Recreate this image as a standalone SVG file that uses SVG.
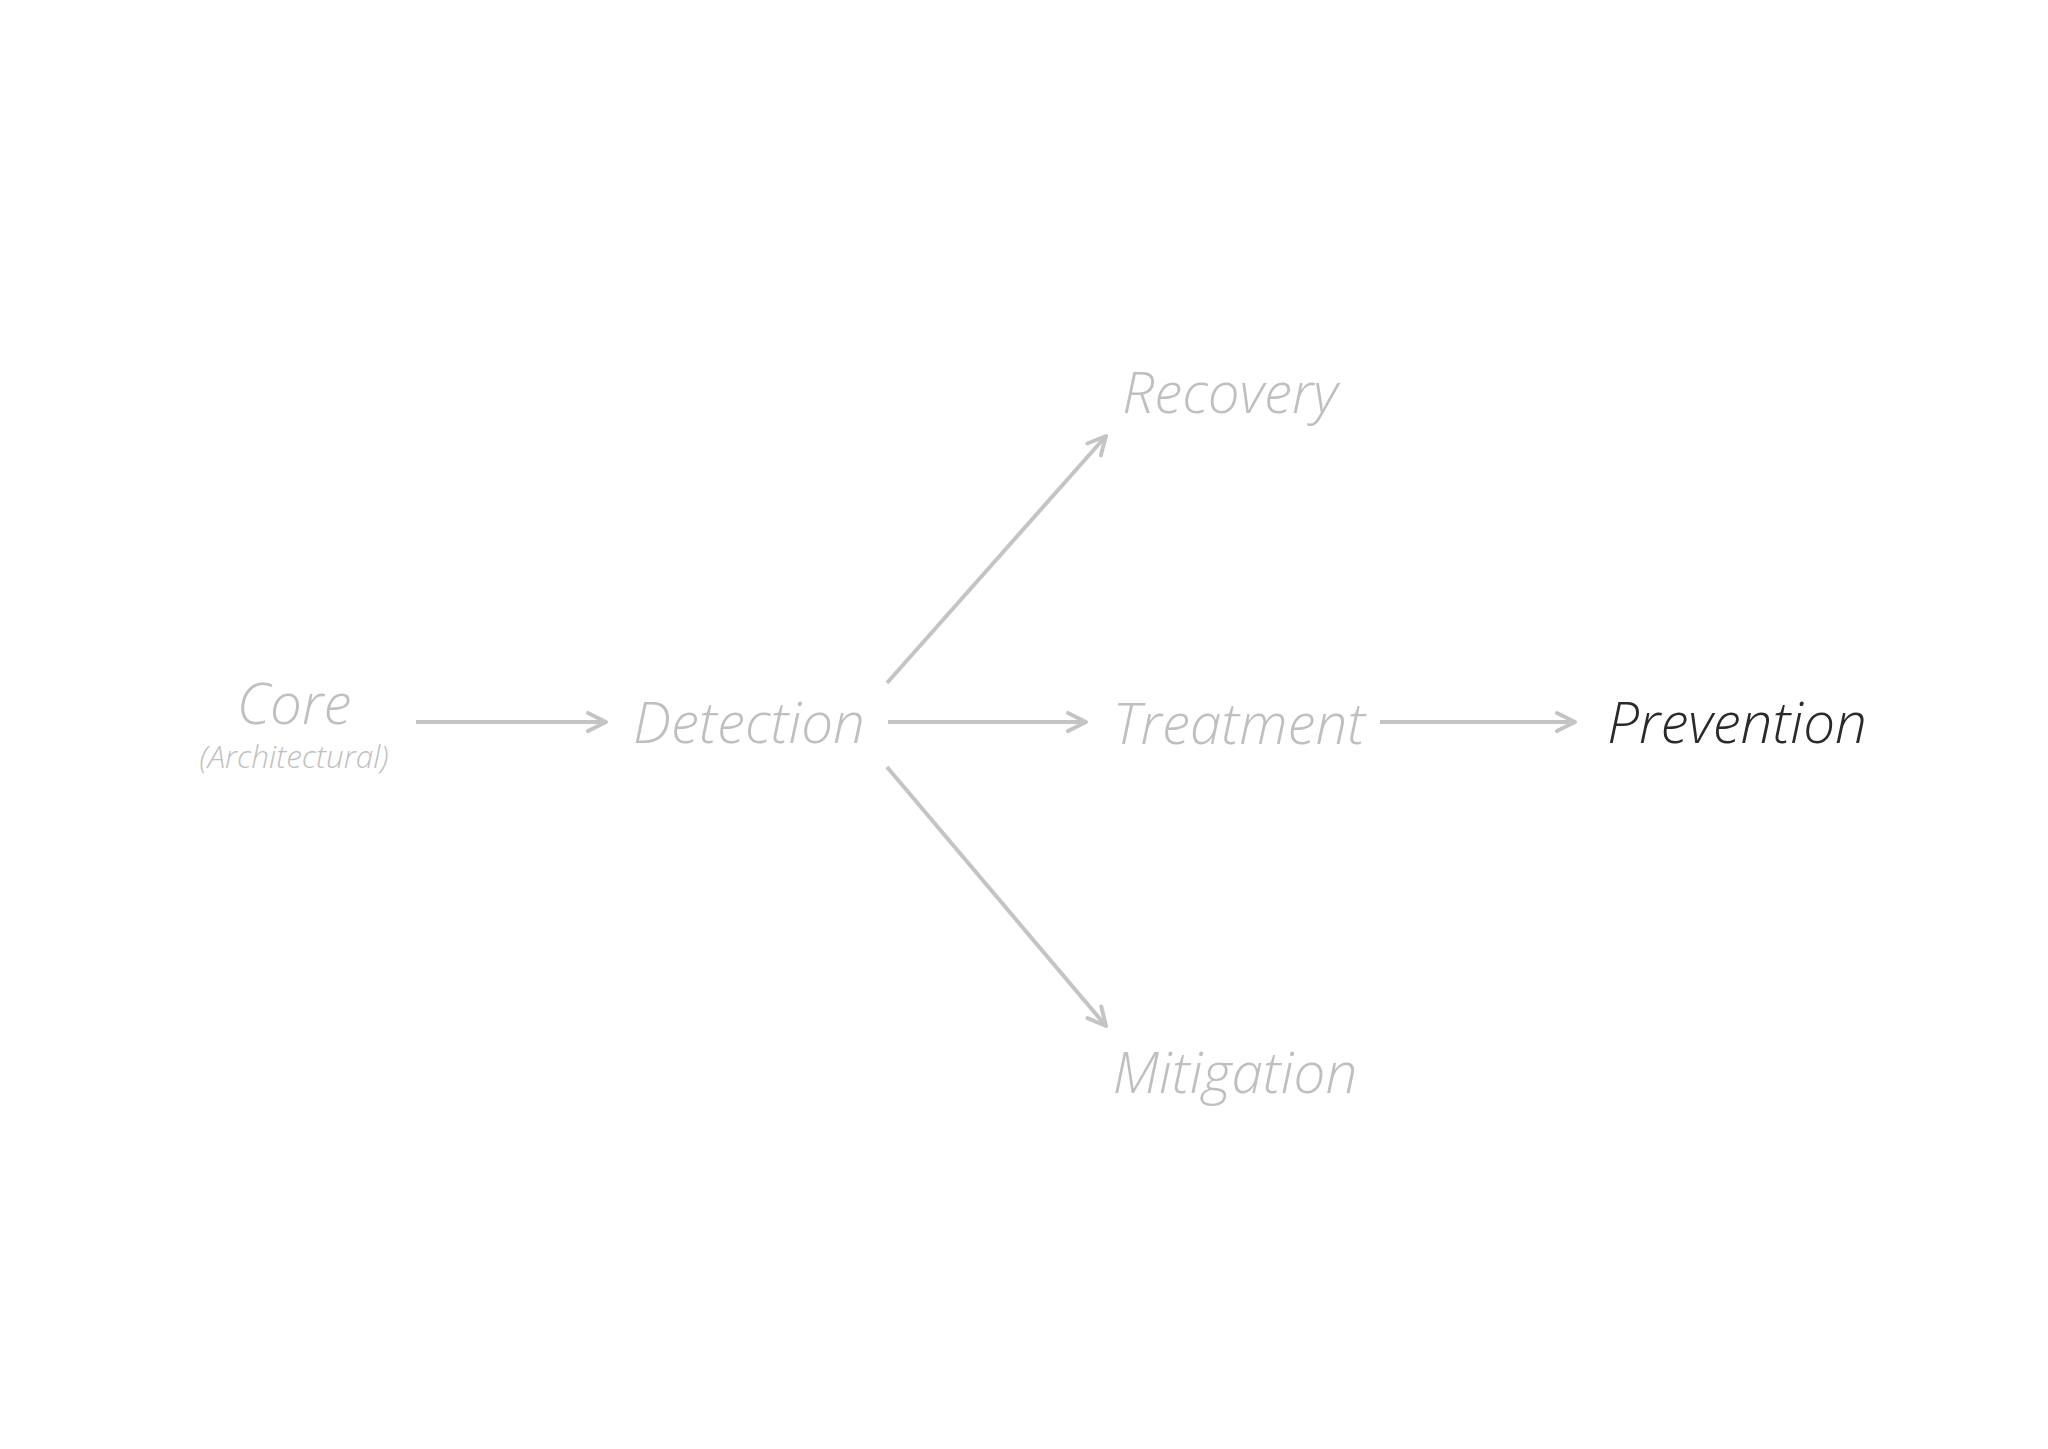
<svg xmlns="http://www.w3.org/2000/svg" width="2048" height="1449" viewBox="0 0 2048 1449">
<defs>
<style>
.lbl{font-family:"Open Sans","Noto Sans","Liberation Sans",sans-serif;font-style:italic;font-weight:300;fill:#bfbfbf;text-anchor:middle}
.big{font-size:56.5px}
.sub{font-size:31.5px}
.dark{fill:#2a2a2a}
.edge{stroke:#c4c4c4;stroke-width:4;fill:none;marker-end:url(#arr)}
</style>
<marker id="arr" markerUnits="userSpaceOnUse" viewBox="-22 -12 26 24" markerWidth="26" markerHeight="24" refX="0" refY="0" orient="auto">
<path d="M -18 -9 L 0 0 L -18 9" fill="none" stroke="#c4c4c4" stroke-width="4" stroke-linecap="round" stroke-linejoin="round"/>
</marker>
</defs>
<rect width="2048" height="1449" fill="#ffffff"/>
<g id="connectors">
<line class="edge" x1="416" y1="722" x2="606" y2="722"/>
<line class="edge" x1="888" y1="722" x2="1086" y2="722"/>
<line class="edge" x1="1380" y1="722" x2="1575" y2="722"/>
<line class="edge" x1="887" y1="683" x2="1106" y2="436"/>
<line class="edge" x1="887" y1="767" x2="1106" y2="1026"/>
</g>
<g id="core">
<text class="lbl big" x="294" y="724">Core</text>
<text class="lbl sub" x="294" y="768">(Architectural)</text>
</g>
<g id="detection"><text class="lbl big" x="749" y="743">Detection</text></g>
<g id="recovery"><text class="lbl big" x="1230" y="413">Recovery</text></g>
<g id="treatment"><text class="lbl big" x="1239" y="744">Treatment</text></g>
<g id="mitigation"><text class="lbl big" x="1235" y="1093">Mitigation</text></g>
<g id="prevention"><text class="lbl big dark" x="1737" y="743">Prevention</text></g>
</svg>
